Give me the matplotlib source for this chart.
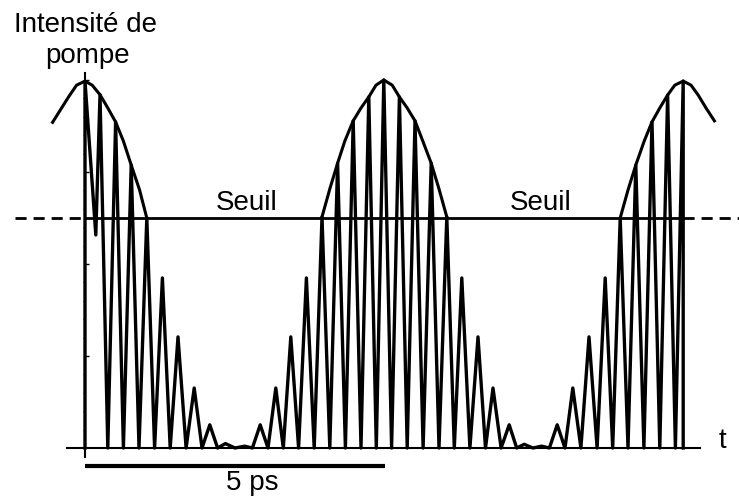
import numpy as np
import matplotlib
matplotlib.use("Agg")
import matplotlib.pyplot as plt

plt.rcParams['font.family'] = ['Liberation Sans', 'DejaVu Sans']

# pulse peaks (time in ps, normalised pump intensity)
left_t = [0.0, 0.25, 0.51, 0.77, 1.03, 1.29, 1.55, 1.82, 2.08, 2.34]
left_I = [0.997, 0.96, 0.886, 0.769, 0.625, 0.462, 0.302, 0.163, 0.063, 0.012]
mid_t = [2.66, 2.92, 3.18, 3.43, 3.69, 3.95, 4.21, 4.47, 4.73, 4.98,
         5.24, 5.5, 5.77, 6.03, 6.28, 6.55, 6.8, 7.07, 7.32]
mid_I = [0.005, 0.063, 0.163, 0.302, 0.462, 0.628, 0.774, 0.889, 0.954, 1.0,
         0.954, 0.889, 0.774, 0.628, 0.462, 0.302, 0.163, 0.063, 0.01]
right_t = [7.61, 7.87, 8.13, 8.4, 8.67, 8.92, 9.18, 9.45, 9.71, 9.97]
right_I = [0.005, 0.063, 0.163, 0.302, 0.462, 0.625, 0.769, 0.886, 0.959, 0.997]

# first dip does not reach zero
first_dip_t = 0.18
first_dip_I = 0.579

# envelope arcs above threshold
env_left_t = [-0.54, -0.39, -0.27, -0.14, 0.0, 0.12, 0.25, 0.38, 0.51, 0.64, 0.77, 0.91, 1.03]
env_left_I = [0.885, 0.924, 0.955, 0.986, 0.997, 0.986, 0.96, 0.924, 0.886, 0.834, 0.769, 0.701, 0.625]
env_mid_t = [3.95, 4.08, 4.21, 4.33, 4.47, 4.6, 4.73, 4.85, 4.98, 5.12, 5.24, 5.37, 5.5,
             5.63, 5.77, 5.9, 6.03]
env_mid_I = [0.628, 0.704, 0.774, 0.834, 0.889, 0.924, 0.954, 0.986, 1.0, 0.986, 0.954,
             0.924, 0.889, 0.834, 0.774, 0.704, 0.628]
env_right_t = [8.92, 9.05, 9.18, 9.32, 9.45, 9.58, 9.71, 9.83, 9.97, 10.1, 10.22, 10.35, 10.49]
env_right_I = [0.625, 0.701, 0.769, 0.834, 0.886, 0.924, 0.959, 0.986, 0.997, 0.986, 0.959,
               0.924, 0.889]

seuil = 0.625
seuil_start = 0.0
seuil_end = 9.97
scale_bar = 5.0  # ps

peaks_t = left_t + mid_t + right_t
peaks_I = left_I + mid_I + right_I

# triangle pulse train: peaks joined through zero-level troughs
xs = [peaks_t[0]]
ys = [0.0]
for i in range(len(peaks_t)):
    xs.append(peaks_t[i])
    ys.append(peaks_I[i])
    if i < len(peaks_t) - 1:
        if i == 0:
            xs.append(first_dip_t)
            ys.append(first_dip_I)
        else:
            xs.append((peaks_t[i] + peaks_t[i + 1]) / 2)
            ys.append(0.0)
xs.append(peaks_t[-1])
ys.append(0.0)

fig = plt.figure(figsize=(7.39, 4.97), dpi=100)
ax = fig.add_axes([0, 0, 1, 1])
ax.set_xlim(-85 / 60, 654 / 60)
ax.set_ylim(-49 / 368, 448 / 368)

ax.plot(xs, ys, color='black', lw=2.4, solid_joinstyle='round')
for et, ei in [(env_left_t, env_left_I), (env_mid_t, env_mid_I), (env_right_t, env_right_I)]:
    ax.plot(et, ei, color='black', lw=2.2)

# threshold
ax.hlines(seuil, seuil_start, seuil_end, color='black', lw=2.0)
ax.hlines(seuil, ax.get_xlim()[0] + 0.25, seuil_start, color='black', lw=2.0,
          linestyles=(0, (4, 2.5)))
ax.hlines(seuil, seuil_end, ax.get_xlim()[1], color='black', lw=2.0,
          linestyles=(0, (4, 2.5)))
ax.text(2.7, 0.647, 'Seuil', fontsize=20, ha='center', va='baseline')
ax.text(7.6, 0.647, 'Seuil', fontsize=20, ha='center', va='baseline')

# axes
for s in ['top', 'right']:
    ax.spines[s].set_visible(False)
ax.spines['left'].set_position(('data', 0))
ax.spines['bottom'].set_position(('data', 0))
ax.spines['left'].set_bounds(-0.025, 1.02)
ax.spines['bottom'].set_bounds(-0.3, 10.25)
ax.spines['left'].set_linewidth(1.5)
ax.spines['bottom'].set_linewidth(1.5)
ax.set_xticks([])
ax.set_yticks([0.25, 0.5, 0.75, 1.0])
ax.set_yticks(np.linspace(0, 1, 21), minor=True)
ax.tick_params(axis='y', which='major', direction='in', length=3, width=1, labelleft=False)
ax.tick_params(axis='y', which='minor', direction='out', length=1.5, width=0.8)

ax.text(0.0, 1.130, 'Intensité de', fontsize=20, ha='center', va='baseline')
ax.text(0.04, 1.046, 'pompe', fontsize=20, ha='center', va='baseline')
ax.text(10.62, 0.0, 't', fontsize=20, ha='center', va='baseline')

# 5 ps scale bar
ax.plot([0, scale_bar], [-0.049, -0.049], color='black', lw=3, solid_capstyle='butt')
ax.text(2.78, -0.114, '5 ps', fontsize=20, ha='center', va='baseline')

fig.savefig('out.png', dpi=100)
